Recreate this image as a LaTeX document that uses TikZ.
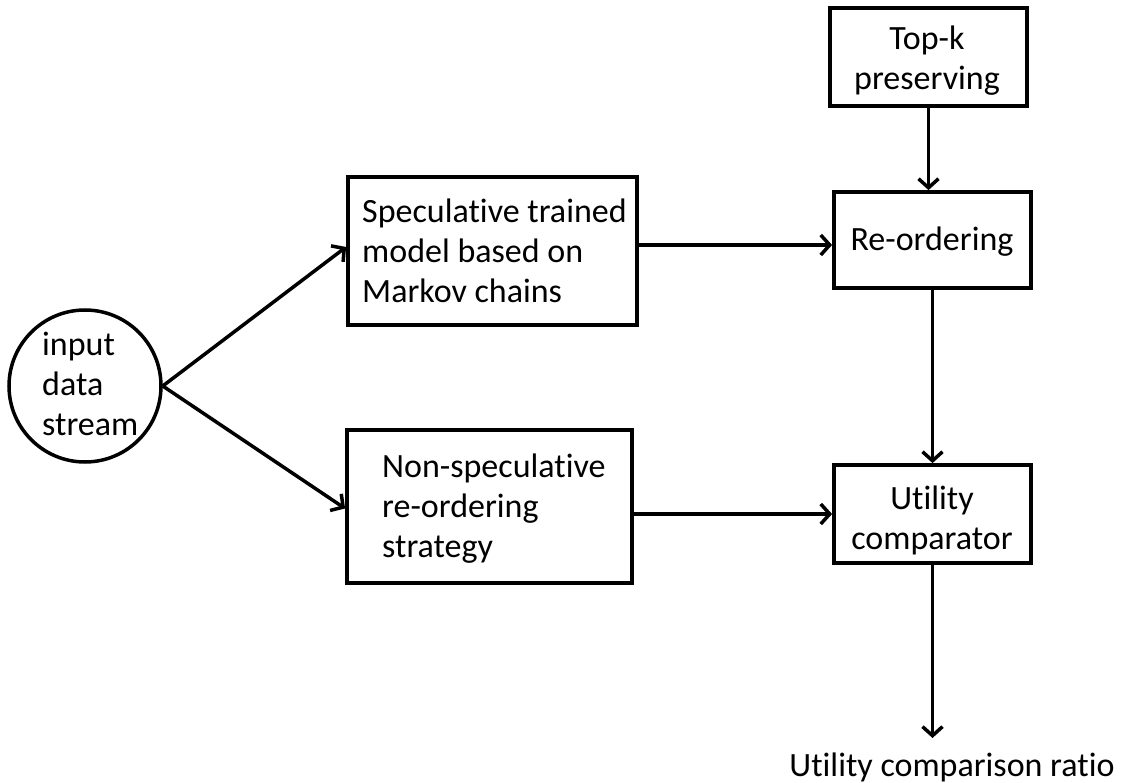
\documentclass[tikz,border=0pt]{standalone}
\usepackage{fontspec}
\setmainfont[Ligatures=NoCommon]{Carlito}
\usetikzlibrary{arrows.meta}
\begin{document}
\begin{tikzpicture}[x=1pt,y=-1pt,
  every node/.style={font=\fontsize{34}{40}\selectfont},
  box/.style={draw,line width=3.8pt,rectangle,inner sep=0pt},
  txt/.style={inner sep=0pt,align=left},
  ctxt/.style={inner sep=0pt,align=center},
  arr/.style={line width=3.5pt,-{Straight Barb[length=9pt,width=20pt,line width=3.5pt]}}]
\useasboundingbox (0,0) rectangle (1122,783);
% circle
\node[draw,circle,line width=3.5pt,minimum size=152pt,inner sep=0pt] (circ) at (85,386) {};
\node[txt,anchor=west] (ctext) at (42,384) {input\\data\\stream};
% boxes
\node[box,minimum width=289pt,minimum height=148pt] (box1) at (492.5,251) {};
\node[txt,anchor=west] (t1) at (362,251) {Speculative trained\\model based on\\Markov chains};
\node[box,minimum width=285pt,minimum height=153pt] (box2) at (489.5,506.5) {};
\node[txt,anchor=west] (t2) at (382,509) {Non-speculative\\re-ordering\\strategy};
\node[box,minimum width=197pt,minimum height=98pt] (topk) at (928.5,57) {};
\node[ctxt] (t3) at (927,61) {Top-k\\preserving};
\node[box,minimum width=197pt,minimum height=96pt] (reord) at (932.5,240) {};
\node[ctxt] (t4) at (932,242) {Re-ordering};
\node[box,minimum width=197pt,minimum height=98pt] (util) at (932.5,514) {};
\node[ctxt] (t5) at (932,520) {Utility\\comparator};
\coordinate (endpt) at (932.5,738);
\node[ctxt] (t6) at (952,767) {Utility comparison ratio};
% connectors
\draw[arr] (circ.east) -- ([yshift=4pt]box1.west);
\draw[arr] (circ.east) -- ([yshift=-2pt]box2.west);
\coordinate (a1) at ([yshift=6pt]box1.east);
\draw[arr] (a1) -- (a1 -| reord.west);
\draw[arr] (box2.east |- util.west) -- (util.west);
\draw[arr] (topk.south) -- (topk.south |- reord.north);
\draw[arr] (reord.south) -- (util.north);
\draw[arr] (util.south) -- (endpt);
\end{tikzpicture}
\end{document}
